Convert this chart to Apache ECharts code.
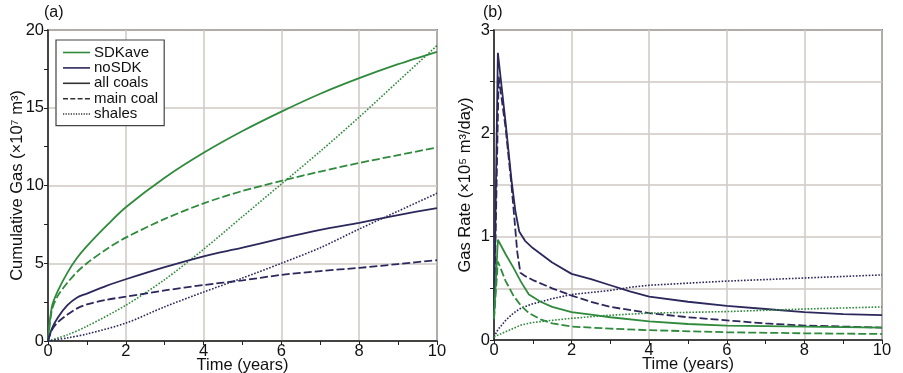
<!DOCTYPE html>
<html>
<head>
<meta charset="utf-8">
<script src="https://cdn.jsdelivr.net/npm/echarts@6/dist/echarts.min.js"></script>
<style>
  html, body { margin: 0; padding: 0; background: #fff; }
  #chart { width: 903px; height: 373px; }
</style>
</head>
<body>
<div id="chart"></div>
<script>
// (a) cumulative gas, x10^7 m3
const cumT = [0, 0.1, 0.25, 0.5, 0.75, 1, 1.5, 2, 3, 4, 5, 6, 7, 8, 9, 10];
const cumSdkAll = [0, 2.2, 3.2, 4.4, 5.35, 6.1, 7.4, 8.6, 10.5, 12.1, 13.5, 14.75, 15.9, 16.9, 17.8, 18.6];
const cumSdkMain = [0, 2.0, 2.9, 3.75, 4.45, 5.0, 5.9, 6.65, 7.85, 8.85, 9.65, 10.3, 10.9, 11.45, 11.95, 12.45];
const cumNoAll = [0, 0.8, 1.5, 2.3, 2.8, 3.05, 3.55, 3.97, 4.75, 5.45, 6.0, 6.6, 7.15, 7.6, 8.1, 8.55];
const cumNoMain = [0, 0.7, 1.2, 1.7, 2.1, 2.35, 2.65, 2.85, 3.25, 3.6, 3.9, 4.25, 4.5, 4.7, 4.95, 5.2];
const shaleT = [0, 0.5, 1, 2, 3, 4, 5, 6, 7, 8, 9, 10];
const cumSdkShale = [0, 0.4, 0.95, 2.3, 3.95, 5.9, 8.0, 10.1, 12.2, 14.4, 16.7, 19.0];
const cumNoShale = [0, 0.2, 0.45, 1.15, 2.2, 3.15, 4.05, 5.0, 6.0, 7.2, 8.35, 9.5];

// (b) gas rate, x10^5 m3/day
const rateNoAllT = [0, 0.1, 0.3, 0.45, 0.55, 0.65, 0.8, 1, 1.5, 2, 2.5, 3, 3.5, 4, 5, 6, 7, 8, 9, 10];
const rateNoAll = [0.2, 2.78, 2.1, 1.55, 1.25, 1.05, 0.96, 0.89, 0.75, 0.64, 0.59, 0.53, 0.47, 0.42, 0.37, 0.33, 0.3, 0.27, 0.25, 0.24];
const rateNoMainT = [0, 0.12, 0.3, 0.45, 0.52, 0.6, 0.68, 0.8, 1, 1.5, 2, 2.5, 3, 4, 5, 6, 7, 8, 9, 10];
const rateNoMain = [0.2, 2.55, 2.05, 1.5, 1.2, 0.85, 0.65, 0.62, 0.58, 0.5, 0.43, 0.37, 0.32, 0.26, 0.22, 0.19, 0.16, 0.14, 0.13, 0.12];
const rateNoShaleT = [0, 0.1, 0.3, 0.5, 0.7, 1, 1.5, 2, 2.5, 3, 3.5, 4, 5, 6, 7, 8, 9, 10];
const rateNoShale = [0.03, 0.1, 0.19, 0.26, 0.31, 0.35, 0.4, 0.44, 0.46, 0.48, 0.51, 0.53, 0.55, 0.57, 0.585, 0.6, 0.615, 0.63];
const rateSdkAllT = [0, 0.1, 0.3, 0.5, 0.7, 0.9, 1.2, 1.5, 2, 2.5, 3, 4, 5, 6, 8, 10];
const rateSdkAll = [0.21, 0.97, 0.83, 0.7, 0.56, 0.44, 0.37, 0.32, 0.27, 0.245, 0.22, 0.18, 0.155, 0.14, 0.13, 0.12];
const rateSdkMainT = [0, 0.1, 0.3, 0.5, 0.7, 0.9, 1.2, 1.5, 2, 3, 4, 6, 8, 10];
const rateSdkMain = [0.2, 0.76, 0.57, 0.43, 0.33, 0.26, 0.2, 0.16, 0.13, 0.11, 0.095, 0.075, 0.065, 0.058];
const rateSdkShaleT = [0, 0.3, 0.7, 1, 1.5, 2, 3, 4, 6, 8, 10];
const rateSdkShale = [0.03, 0.08, 0.145, 0.17, 0.19, 0.21, 0.24, 0.26, 0.275, 0.3, 0.32];

const legendNames = ['SDKave', 'noSDK', 'all coals', 'main coal', 'shales'];
const xTicks = [0, 2, 4, 6, 8, 10];

const green = '#2f8a3c';
const purple = '#2c285c';
const dash = [8, 3];
const font = 'Liberation Sans, Arial, sans-serif';

// legend swatches drawn as short line paths (27 x 1.6)
const iconSolid = 'path://M0,0L27,0L27,1.6L0,1.6Z';
const iconDash = 'path://M0,0L5,0L5,1.6L0,1.6ZM7.3,0L12.3,0L12.3,1.6L7.3,1.6ZM14.6,0L19.6,0L19.6,1.6L14.6,1.6ZM21.9,0L27,0L27,1.6L21.9,1.6Z';
let dots = '';
for (let x = 0; x < 27; x += 2.7) {
    dots += 'M' + x.toFixed(1) + ',0L' + (x + 1.3).toFixed(1) + ',0L' + (x + 1.3).toFixed(1) + ',1.6L' + x.toFixed(1) + ',1.6Z';
}
const iconDot = 'path://' + dots;

function pairs(t, v) {
    return t.map((x, i) => [x, v[i]]);
}

function curve(name, idx, t, v, color, type, smooth) {
    return {
        name: name,
        type: 'line',
        xAxisIndex: idx,
        yAxisIndex: idx,
        data: pairs(t, v),
        showSymbol: false,
        symbol: 'none',
        smooth: smooth,
        lineStyle: { color: color, width: type === 'dotted' ? 1.6 : 1.8, type: type },
        silent: true,
        z: 3
    };
}

function xAxis(idx) {
    return {
        type: 'value',
        gridIndex: idx,
        min: 0, max: 10, interval: 2,
        name: 'Time (years)',
        nameLocation: 'middle',
        nameGap: 16,
        nameMoveOverlap: false,
        nameTextStyle: { fontFamily: font, fontSize: 16.5, color: '#111' },
        axisLine: { show: true, onZero: false, lineStyle: { color: '#222', width: 1.5 } },
        axisTick: { show: true, length: 4, lineStyle: { color: '#222' } },
        minorTick: { show: true, splitNumber: 2, length: 4, lineStyle: { color: '#222' } },
        axisLabel: { fontFamily: font, fontSize: 16.5, color: '#111', margin: 2,
            formatter: v => xTicks.includes(v) ? String(v) : '' },
        splitLine: { show: true, lineStyle: { color: '#d0c9c5', width: 1.5 } }
    };
}

const labelOpts = { fontFamily: font, fontSize: 16.5, color: '#111', margin: 4 };

const legendSeries = [
    { name: 'SDKave', color: green },
    { name: 'noSDK', color: purple },
    { name: 'all coals', color: '#333' },
    { name: 'main coal', color: '#333' },
    { name: 'shales', color: '#333' }
].map(s => ({
    name: s.name, type: 'line', data: [], symbol: 'none',
    xAxisIndex: 0, yAxisIndex: 0,
    lineStyle: { color: s.color, width: 1.5 },
    itemStyle: { color: s.color }
}));

const chart = echarts.init(document.getElementById('chart'));
chart.setOption({
    animation: false,
    backgroundColor: '#fff',
    title: [
        { text: '(a)', left: 39, top: 0, textStyle: { fontFamily: font, fontSize: 16, fontWeight: 'normal', color: '#111' } },
        { text: '(b)', left: 478, top: 0, textStyle: { fontFamily: font, fontSize: 16, fontWeight: 'normal', color: '#111' } }
    ],
    grid: [
        { left: 48, top: 30, width: 389, height: 311, outerBoundsMode: 'none', show: true, borderColor: '#222', borderWidth: 1.5 },
        { left: 494, top: 30, width: 388, height: 310, outerBoundsMode: 'none', show: true, borderColor: '#222', borderWidth: 1.5 }
    ],
    legend: {
        data: [
            { name: 'SDKave', icon: iconSolid },
            { name: 'noSDK', icon: iconSolid },
            { name: 'all coals', icon: iconSolid },
            { name: 'main coal', icon: iconDash },
            { name: 'shales', icon: iconDot }
        ],
        orient: 'vertical',
        left: 56, top: 40,
        padding: [5, 6, 4, 7],
        itemGap: 0.4,
        itemWidth: 27,
        itemHeight: 1.6,
        borderColor: '#444',
        borderWidth: 1.2,
        backgroundColor: '#fff',
        selectedMode: false,
        textStyle: { fontFamily: font, fontSize: 15, color: '#111', lineHeight: 14, padding: [0, 0, 0, -1] }
    },
    xAxis: [xAxis(0), xAxis(1)],
    yAxis: [
        {
            type: 'value', gridIndex: 0, min: 0, max: 20, interval: 5,
            name: 'Cumulative Gas (×10⁷ m³)',
            nameLocation: 'middle', nameGap: 22,
            nameMoveOverlap: false,
            nameTextStyle: { fontFamily: font, fontSize: 16.5, color: '#111' },
            axisLine: { show: true, lineStyle: { color: '#222', width: 1.5 } },
            axisTick: { show: true, length: 4, lineStyle: { color: '#222' } },
            minorTick: { show: true, splitNumber: 2, length: 4, lineStyle: { color: '#222' } },
            axisLabel: labelOpts,
            splitLine: { show: true, lineStyle: { color: '#d0c9c5', width: 1.5 } }
        },
        {
            type: 'value', gridIndex: 1, min: 0, max: 3, interval: 0.5,
            name: 'Gas Rate (×10⁵ m³/day)',
            nameLocation: 'middle', nameGap: 20,
            nameMoveOverlap: false,
            nameTextStyle: { fontFamily: font, fontSize: 16.5, color: '#111' },
            axisLine: { show: true, lineStyle: { color: '#222', width: 1.5 } },
            axisTick: { show: true, length: 4, lineStyle: { color: '#222' } },
            axisLabel: Object.assign({}, labelOpts, {
                formatter: v => Number.isInteger(v) ? String(v) : ''
            }),
            splitLine: { show: true, lineStyle: { color: '#d0c9c5', width: 1.5 } }
        }
    ],
    series: [
        curve('cum SDKave all', 0, cumT, cumSdkAll, green, 'solid', 0.3),
        curve('cum SDKave main', 0, cumT, cumSdkMain, green, dash, 0.3),
        curve('cum SDKave shale', 0, shaleT, cumSdkShale, green, 'dotted', 0.3),
        curve('cum noSDK all', 0, cumT, cumNoAll, purple, 'solid', 0.3),
        curve('cum noSDK main', 0, cumT, cumNoMain, purple, dash, 0.3),
        curve('cum noSDK shale', 0, shaleT, cumNoShale, purple, 'dotted', 0.3),
        curve('rate noSDK all', 1, rateNoAllT, rateNoAll, purple, 'solid', false),
        curve('rate noSDK main', 1, rateNoMainT, rateNoMain, purple, dash, false),
        curve('rate noSDK shale', 1, rateNoShaleT, rateNoShale, purple, 'dotted', false),
        curve('rate SDKave all', 1, rateSdkAllT, rateSdkAll, green, 'solid', false),
        curve('rate SDKave main', 1, rateSdkMainT, rateSdkMain, green, dash, false),
        curve('rate SDKave shale', 1, rateSdkShaleT, rateSdkShale, green, 'dotted', false)
    ].concat(legendSeries)
});
</script>
</body>
</html>
